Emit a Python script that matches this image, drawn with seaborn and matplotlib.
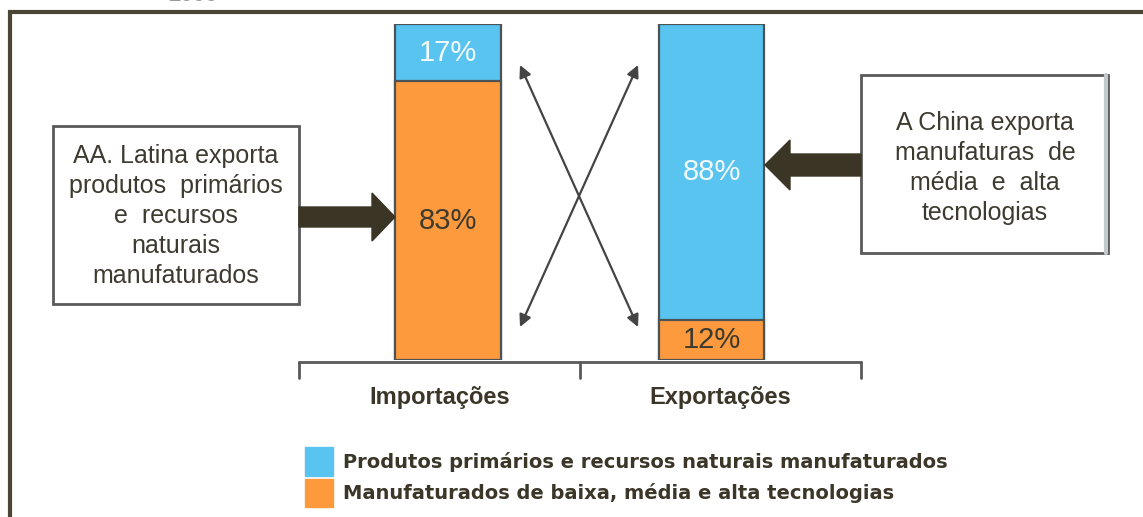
import matplotlib
matplotlib.use('Agg')
import matplotlib.pyplot as plt
import matplotlib.patches as mpatches
import seaborn as sns
import pandas as pd

# dados
grupos = ['Importações', 'Exportações']
primarios = [17, 88]          # produtos primarios e recursos naturais manufaturados
manufaturados = [83, 12]      # manufaturados de baixa, media e alta tecnologias
legenda = ['Produtos primários e recursos naturais manufaturados',
           'Manufaturados de baixa, média e alta tecnologias']
texto_esq = 'AA. Latina exporta\nprodutos  primários\ne  recursos\nnaturais\nmanufaturados'
texto_dir = 'A China exporta\nmanufaturas  de\nmédia  e  alta\ntecnologias'

azul = '#58c4ef'
laranja = '#fd9a3d'
borda = '#4d5257'
escuro = '#3b3628'

sns.set_theme(style='white')
plt.rcParams['font.family'] = ['Liberation Sans', 'DejaVu Sans']

W, H = 1143, 517
fig = plt.figure(figsize=(W / 100, H / 100), dpi=100)
fig.patch.set_facecolor('white')

ax = fig.add_axes([0, 157 / H, 1, 336 / H])
df = pd.DataFrame({'grupo': grupos, 'primarios': primarios, 'manufaturados': manufaturados})
df['total'] = df['primarios'] + df['manufaturados']

sns.barplot(data=df, x='grupo', y='total', color=azul, saturation=1, width=0.402,
            edgecolor=borda, linewidth=1.6, ax=ax)
sns.barplot(data=df, x='grupo', y='manufaturados', color=laranja, saturation=1, width=0.402,
            edgecolor=borda, linewidth=1.6, ax=ax)

step = 263.5
ax.set_xlim(-448 / step, (W - 448) / step)
ax.set_ylim(0, 100)
for s in ax.spines.values():
    s.set_visible(False)
ax.set_xticks([])
ax.set_yticks([])
ax.set_xlabel('')
ax.set_ylabel('')
ax.patch.set_alpha(0)

# rotulos de porcentagem
for i, row in df.iterrows():
    m = row['manufaturados']
    p = row['primarios']
    ax.text(i, m / 2, f'{m}%', ha='center', va='center', fontsize=21, color='#3d3a30')
    ax.text(i, m + p / 2, f'{p}%', ha='center', va='center', fontsize=21, color='#f2fafd')

# colchete do eixo
meio = 0.5
esq, dir_ = meio - 1.066, meio + 1.066
ax.plot([esq, dir_], [-0.6, -0.6], color='#5a5a5a', lw=2, clip_on=False)
for xx in [esq, meio, dir_]:
    ax.plot([xx, xx], [-0.6, -5.4], color='#5a5a5a', lw=2, clip_on=False)
for xx, g in zip([(esq + meio) / 2, (meio + dir_) / 2], grupos):
    ax.text(xx, -11.3, g, ha='center', va='center', fontsize=17, fontweight='bold',
            color=escuro, clip_on=False)

# camada de anotacoes em pixels
ov = fig.add_axes([0, 0, 1, 1])
ov.set_xlim(0, W)
ov.set_ylim(H, 0)
ov.set_axis_off()

ov.plot([10, 10, W], [H, 12, 12], color='#4a4535', lw=3, solid_joinstyle='miter')
ov.text(193, 1, '2000', ha='center', va='baseline', fontsize=16, fontweight='bold', color='#9a9a9a')

ov.add_patch(mpatches.Rectangle((53, 126), 246, 178, facecolor='white', edgecolor='#5a5a5a', lw=2))
ov.add_patch(mpatches.Rectangle((861, 75), 247, 178, facecolor='white', edgecolor='#5a5a5a', lw=2))
ov.plot([1106, 1106], [75, 253], color='#c3cacd', lw=3)

ov.text(176, 216, texto_esq, ha='center', va='center', fontsize=18, color='#3d3a30', linespacing=1.31)
ov.text(985, 168, texto_dir, ha='center', va='center', fontsize=18, color='#3d3a30', linespacing=1.31)

ov.add_patch(mpatches.FancyArrow(299, 217, 96, 0, width=20, head_width=48, head_length=23,
                                 length_includes_head=True, color='#3b3526'))
ov.add_patch(mpatches.FancyArrow(861, 165, -96, 0, width=22, head_width=50, head_length=25,
                                 length_includes_head=True, color='#3b3526'))

for a, b in [((520, 65), (638, 327)), ((638, 65), (520, 327))]:
    ov.annotate('', xy=b, xytext=a,
                arrowprops=dict(arrowstyle='<|-|>', color='#444444', lw=1.6,
                                mutation_scale=18, shrinkA=0, shrinkB=0))

handles = [mpatches.Patch(color=azul, label=legenda[0]),
           mpatches.Patch(color=laranja, label=legenda[1])]
fig.legend(handles=handles, loc='upper left', bbox_to_anchor=(305 / W, 1 - 447 / H),
           frameon=False, handlelength=1.44, handleheight=1.9,
           handletextpad=0.5, labelspacing=0.15, borderpad=0, borderaxespad=0,
           prop={'family': 'DejaVu Sans', 'weight': 'bold', 'size': 14}, labelcolor=escuro)

fig.savefig('out.png', dpi=100)
